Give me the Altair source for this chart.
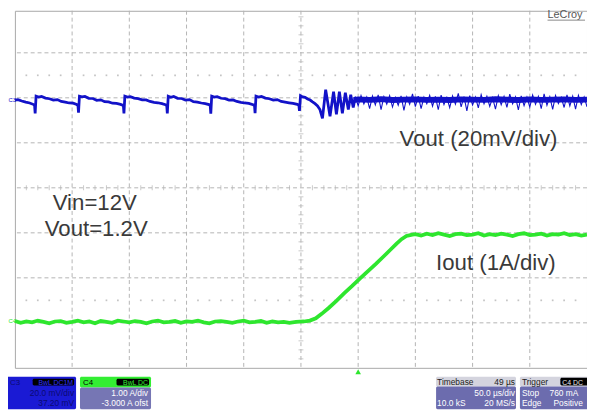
import altair as alt
import pandas as pd

FONT = "Liberation Sans"
BLUE = "#1212c8"
GREEN = "#2ee62e"
GRID = "#b4b4b4"
TEXT = "#3a3a3a"

# ---------------- data read from the screen ----------------
# time in microseconds (50 us/div, 10 div across the screen)
# C3: Vout ripple in mV (20 mV/div, trace centred on division 6)
vout_t_ripple = [0.0, 2.6, 6.0, 9.5, 12.9, 16.4, 17.2, 17.7,
                 18.5, 20.7, 23.3, 26.7, 30.2, 33.6, 37.1, 40.5, 44.0, 47.4, 50.9, 54.0, 55.1, 55.6,
                 56.4, 58.6, 61.2, 64.6, 68.1, 71.5, 75.0, 78.4, 81.9, 85.3, 88.8, 92.3, 94.8, 95.3,
                 96.1, 98.3, 100.9, 104.3, 107.8, 111.2, 114.7, 118.1, 121.6, 125.0, 128.5, 131.6, 132.7, 133.2,
                 134.0, 136.2, 138.8, 142.2, 145.7, 149.1, 152.6, 156.0, 159.5, 162.9, 166.4, 169.6, 170.7, 171.2,
                 172.0, 174.2, 176.8, 180.2, 183.7, 187.1, 190.6, 194.0, 197.5, 200.9, 204.4, 208.2, 209.4, 209.9,
                 210.7, 212.9, 215.5, 218.9, 222.4, 225.8, 229.3, 232.7, 236.2, 239.6, 243.1, 246.8, 248.2, 248.7,
                 249.6, 251.5, 253.6, 255.8, 258.0, 260.1, 262.3, 264.5, 266.6, 268.8,
                 271.6, 275.4, 278.5, 281.0, 283.6, 286.2, 288.8, 291.4, 293.5, 295.7, 297.5]
vout_mv_ripple = [-1.0, -0.8, -1.4, -1.9, -2.3, -3.0, -3.4, -6.9,
                  0.7, 0.3, 0.6, -0.1, -0.4, -1.0, -0.8, -1.6, -1.9, -2.3, -2.4, -3.0, -3.4, -6.6,
                  0.7, 0.4, 0.6, -0.2, -0.3, -1.1, -0.9, -1.7, -1.8, -2.4, -2.5, -2.9, -3.4, -6.9,
                  0.7, 0.3, 0.5, -0.1, -0.4, -0.9, -0.9, -1.6, -2.0, -2.2, -2.6, -3.1, -3.4, -6.9,
                  0.7, 0.2, 0.6, -0.2, -0.3, -1.0, -0.8, -1.7, -1.9, -2.3, -2.6, -3.0, -3.5, -7.0,
                  0.7, 0.3, 0.5, -0.2, -0.4, -1.0, -0.9, -1.6, -2.0, -2.3, -2.5, -3.1, -3.4, -6.8,
                  0.7, 0.3, 0.6, -0.1, -0.4, -1.0, -0.8, -1.6, -1.9, -2.2, -2.5, -2.9, -3.3, -5.8,
                  0.9, 0.4, 0.2, -0.5, -1.0, -1.8, -2.6, -3.6, -5.2, -9.1,
                  3.6, -8.2, 2.7, -7.3, 2.7, -6.9, 2.3, -5.2, 1.4, -4.3, 0.4]
# noisy steady state after the load step: thin spikes ...
vout_t_noise = [297.5, 300, 302.5, 305, 307.5, 310, 312.5, 315, 317.5, 320, 322.5, 325, 327.5, 330,
                332.5, 335, 337.5, 340, 342.5, 345, 347.5, 350, 352.5, 355, 357.5, 360, 362.5, 365,
                367.5, 370, 372.5, 375, 377.5, 380, 382.5, 385, 387.5, 390, 392.5, 395, 397.5, 400,
                402.5, 405, 407.5, 410, 412.5, 415, 417.5, 420, 422.5, 425, 427.5, 430, 432.5, 435,
                437.5, 440, 442.5, 445, 447.5, 450, 452.5, 455, 457.5, 460, 462.5, 465, 467.5, 470,
                472.5, 475, 477.5, 480, 482.5, 485, 487.5, 490, 492.5, 495, 497.5, 500]
vout_mv_noise = [0.6, -3.6, 1.0, -2.7, 0.4, -4.8, 0.8, -3.1, 1.3, -5.2, 0.5, -2.8, 1.0, -4.1,
                 0.2, -3.3, 0.9, -5.6, 0.4, -2.9, 1.8, -3.9, 0.7, -4.8, 0.3, -2.6, 1.1, -3.7,
                 0.6, -5.3, 1.2, -3.0, 0.2, -4.4, 0.8, -2.8, 2.0, -4.0, 0.5, -5.8, 1.0, -3.2,
                 0.3, -4.5, 1.4, -2.7, 0.7, -3.8, 0.1, -5.0, 1.0, -3.1, 0.6, -4.2, 1.6, -2.7,
                 0.4, -5.4, 0.9, -3.5, 0.3, -4.1, 1.2, -2.9, 0.6, -4.8, 1.8, -3.3, 0.5, -5.1,
                 1.0, -2.6, 0.2, -4.3, 1.3, -3.6, 0.7, -5.0, 1.1, -3.0, 0.4, -4.0]
# ... around a dense core band
vout_t_core = [296, 300, 310, 320, 330, 340, 350, 360, 370, 380, 390, 400, 410, 420,
               430, 440, 450, 460, 470, 480, 490, 500]
vout_mv_core = [-1.0, -0.7, -0.9, -0.6, -1.0, -0.8, -0.7, -0.9, -0.8, -1.0, -0.7,
                -0.8, -0.9, -0.6, -0.8, -1.0, -0.7, -0.9, -0.8, -0.7, -0.9, -0.8]

# C4: Iout in A (1 A/div, -3.000 A offset -> 0 A sits on division 1)
iout_t = [0, 5, 10, 15, 20, 25, 30, 35, 40, 45, 50, 55, 60, 65, 70, 75, 80, 85, 90, 95,
          100, 105, 110, 115, 120, 125, 130, 135, 140, 145, 150, 155, 160, 165, 170, 175,
          180, 185, 190, 195, 200, 205, 210, 215, 220, 225, 230, 235, 240,
          245.7, 252.6, 257.8, 263.0, 268.1, 274.2, 281.0, 287.9, 294.8, 301.7, 308.6,
          315.5, 322.4, 328.4, 333.6, 337.9, 342.2, 347.4,
          350, 355, 360, 365, 370, 375, 380, 385, 390, 395, 400, 405, 410, 415, 420, 425,
          430, 435, 440, 445, 450, 455, 460, 465, 470, 475, 480, 485, 490, 495, 500]
iout_a = [0.04, 0.00, 0.03, 0.01, 0.05, 0.02, -0.01, 0.03, 0.04, 0.00,
          0.02, 0.05, 0.01, 0.03, -0.01, 0.04, 0.02, 0.00, 0.05, 0.03,
          0.01, 0.04, 0.02, -0.01, 0.03, 0.05, 0.01, 0.02, 0.04, 0.00,
          0.03, 0.02, 0.05, 0.01, -0.01, 0.03, 0.04, 0.02, 0.00, 0.03,
          0.05, 0.01, 0.02, 0.04, 0.00, 0.03, 0.01, 0.02, 0.00,
          0.02, 0.03, 0.05, 0.10, 0.20, 0.33, 0.49, 0.66, 0.82, 0.99, 1.15,
          1.31, 1.48, 1.63, 1.76, 1.86, 1.93, 1.96,
          1.97, 1.94, 1.98, 1.95, 1.99, 1.96, 1.93, 1.97, 1.98, 1.95, 1.96, 1.99, 1.94, 1.97,
          1.95, 1.98, 1.96, 1.93, 1.97, 1.99, 1.95, 1.96, 1.98, 1.94, 1.97, 1.96, 1.99, 1.95,
          1.97, 1.94, 1.96]

# annotation texts
note_text = ["Vin=12V", "Vout=1.2V"]
label_text = ["Vout (20mV/div)", "Iout (1A/div)"]

# ---------------- chart ----------------
W, H = 580, 362
X = alt.Scale(domain=[0, 500], nice=False, zero=False)
Y = alt.Scale(domain=[0, 8 * 362 / 365], nice=False, zero=False)

def xq(f="t"):
    return alt.X(f"{f}:Q", scale=X, axis=None)

def yq(f="div"):
    return alt.Y(f"{f}:Q", scale=Y, axis=None)

one = pd.DataFrame({"a": [0]})

grid_v = alt.Chart(pd.DataFrame({"t": [50 * k for k in range(1, 10)]})).mark_rule(
    color=GRID, strokeDash=[4, 3], strokeWidth=1).encode(x=xq())
grid_h = alt.Chart(pd.DataFrame({"div": list(range(1, 8))})).mark_rule(
    color=GRID, strokeDash=[4, 3], strokeWidth=1).encode(y=yq())

sub_t = [10 * k for k in range(1, 50) if k % 5]
sub_d = [round(0.2 * k, 1) for k in range(1, 40) if k % 5]
ticks_h = alt.Chart(pd.DataFrame({"t": sub_t, "div": [4] * len(sub_t)})).mark_tick(
    orient="vertical", size=5, thickness=1, color=GRID).encode(x=xq(), y=yq())
ticks_v = alt.Chart(pd.DataFrame({"t": [250] * len(sub_d), "div": sub_d})).mark_tick(
    orient="horizontal", size=5, thickness=1, color=GRID).encode(x=xq(), y=yq())
dots = alt.Chart(pd.DataFrame({"t": sub_t * 2, "div": [6.5] * len(sub_t) + [1.5] * len(sub_t)})).mark_square(
    size=3, color="#c4c4c4", opacity=1).encode(x=xq(), y=yq())

green = alt.Chart(pd.DataFrame({"t": iout_t, "a": iout_a})).transform_calculate(
    div="1 + datum.a").mark_line(color=GREEN, strokeWidth=3.8).encode(x=xq(), y=yq())
blue_a = alt.Chart(pd.DataFrame({"t": vout_t_ripple, "mv": vout_mv_ripple})).transform_calculate(
    div="6 + datum.mv / 20").mark_line(color=BLUE, strokeWidth=2.8).encode(x=xq(), y=yq())
blue_core = alt.Chart(pd.DataFrame({"t": vout_t_core, "mv": vout_mv_core})).transform_calculate(
    div="6 + datum.mv / 20").mark_line(color=BLUE, strokeWidth=6).encode(x=xq(), y=yq())
blue_b = alt.Chart(pd.DataFrame({"t": vout_t_noise, "mv": vout_mv_noise})).transform_calculate(
    div="6 + datum.mv / 20").mark_line(color=BLUE, strokeWidth=1.1).encode(x=xq(), y=yq())

notes = alt.Chart(pd.DataFrame({"txt": note_text, "t": [69.8, 71.1], "div": [3.51, 2.94]})).mark_text(
    align="center", baseline="alphabetic", font=FONT, fontSize=22.5, color=TEXT).encode(
    x=xq(), y=yq(), text="txt:N")
labels = alt.Chart(pd.DataFrame({"txt": label_text, "t": [336.2, 368.1], "div": [4.93, 2.17]})).mark_text(
    align="left", baseline="alphabetic", font=FONT, fontSize=22.5, color=TEXT).encode(
    x=xq(), y=yq(), text="txt:N")

trig = alt.Chart(one).mark_point(shape="triangle-up", filled=True, size=32, color=GREEN, opacity=1).encode(
    x=alt.datum(300, scale=X), y=alt.value(366))

# ---- oscilloscope chrome (pixel positions relative to the plot) ----
rects = pd.DataFrame([
    dict(x=-10, x2=62, y=371, y2=404, c="#1a1ad4"),
    dict(x=18, x2=60, y=373, y2=380, c="#000000"),
    dict(x=66, x2=138, y=371, y2=382, c="#33ee33"),
    dict(x=66, x2=138, y=382, y2=404, c="#7676b4"),
    dict(x=103, x2=136, y=373, y2=380, c="#000000"),
    dict(x=427, x2=508, y=371, y2=381, c="#d4d4de"),
    dict(x=427, x2=508, y=381, y2=404, c="#6c6cae"),
    dict(x=512, x2=585, y=371, y2=381, c="#d4d4de"),
    dict(x=512, x2=585, y=381, y2=404, c="#6c6cae"),
    dict(x=553, x2=585, y=372, y2=380, c="#000000"),
])
chrome_r = alt.Chart(rects).mark_rect(cornerRadius=1.5).encode(
    x=alt.X("x:Q", scale=None), x2="x2:Q", y=alt.Y("y:Q", scale=None), y2="y2:Q",
    color=alt.Color("c:N", scale=None))

ltxt = pd.DataFrame([
    dict(x=-5, y=379, s="C3", c="#0a0a70", z=8),
    dict(x=69, y=379, s="C4", c="#000000", z=8),
    dict(x=428, y=379, s="Timebase", c="#222222", z=8.5),
    dict(x=428, y=401, s="10.0 kS", c="#ffffff", z=8.5),
    dict(x=514, y=379, s="Trigger", c="#222222", z=8.5),
    dict(x=555, y=379, s="C4 DC", c="#e8e8e8", z=7),
    dict(x=514, y=391, s="Stop", c="#ffffff", z=8.5),
    dict(x=542, y=391, s="760 mA", c="#ffffff", z=8.5),
    dict(x=514, y=401, s="Edge", c="#ffffff", z=8.5),
    dict(x=546, y=401, s="Positive", c="#ffffff", z=8.5),
    dict(x=540, y=7.5, s="LeCroy", c="#555555", z=11),
    dict(x=-6.5, y=92, s="C3", c=BLUE, z=6),
    dict(x=-6.5, y=317, s="C4", c=GREEN, z=6),
])
rtxt = pd.DataFrame([
    dict(x=59, y=379, s="BwL DC1M", c="#3030ff", z=7),
    dict(x=60, y=391, s="20.0 mV/div", c="#0a0a70", z=8.5),
    dict(x=60, y=401, s="37.20 mV", c="#0a0a70", z=8.5),
    dict(x=135, y=379, s="BwL DC", c="#33ee33", z=7),
    dict(x=135, y=391, s="1.00 A/div", c="#ffffff", z=8.5),
    dict(x=135, y=401, s="-3.000 A ofst", c="#ffffff", z=8.5),
    dict(x=507, y=379, s="49 µs", c="#222222", z=8.5),
    dict(x=507, y=391, s="50.0 µs/div", c="#ffffff", z=8.5),
    dict(x=507, y=401, s="20 MS/s", c="#ffffff", z=8.5),
])

def chrome_text(df, align):
    return alt.Chart(df).mark_text(align=align, baseline="alphabetic", font=FONT).encode(
        x=alt.X("x:Q", scale=None), y=alt.Y("y:Q", scale=None), text="s:N",
        color=alt.Color("c:N", scale=None), size=alt.Size("z:Q", scale=None))

underline = alt.Chart(one).mark_rule(color="#888888", strokeWidth=1).encode(
    x=alt.value(540), x2=alt.value(578), y=alt.value(9.5))

chart = alt.layer(
    grid_v, grid_h, ticks_h, ticks_v, dots,
    green, blue_a, blue_core, blue_b,
    notes, labels, trig,
    chrome_r, chrome_text(ltxt, "left"), chrome_text(rtxt, "right"),
    underline,
).properties(
    width=W, height=H,
    autosize=alt.AutoSizeParams(type="none"),
    padding={"left": 7, "top": 0, "right": 0, "bottom": 45},
    background="white",
).configure_view(stroke="#a8a8a8", strokeWidth=1)

chart.save("out.html", embed_options={"renderer": "svg", "actions": False})
